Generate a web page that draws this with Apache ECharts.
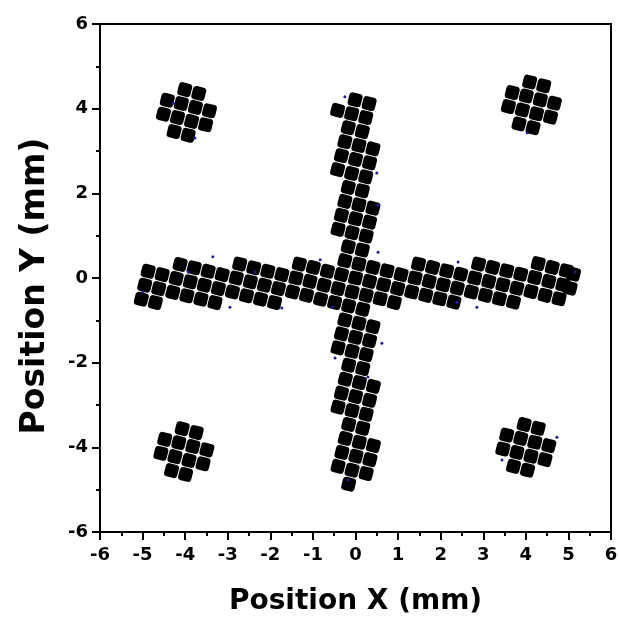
<!DOCTYPE html>
<html><head><meta charset="utf-8">
<script src="https://cdn.jsdelivr.net/npm/echarts@6/dist/echarts.min.js"></script>
<style>html,body{margin:0;padding:0;background:#fff}#c{width:619px;height:628px}</style>
</head><body><div id="c"></div>
<script>
// Horizontal arm of the cross (mm)
const hArm = [
  [-5.03,-0.50],[-4.95,-0.17],[-4.87,0.16],
  [-4.70,-0.58],[-4.62,-0.25],[-4.54,0.08],
  [-4.29,-0.34],[-4.21,-0.01],[-4.12,0.32],
  [-3.96,-0.42],[-3.88,-0.09],[-3.79,0.24],
  [-3.63,-0.50],[-3.55,-0.17],[-3.46,0.16],
  [-3.30,-0.58],[-3.22,-0.25],[-3.13,0.08],
  [-2.89,-0.33],[-2.80,0.00],[-2.72,0.33],
  [-2.56,-0.42],[-2.47,-0.09],[-2.39,0.24],
  [-2.23,-0.50],[-2.14,-0.17],[-2.06,0.16],
  [-1.90,-0.58],[-1.81,-0.25],[-1.73,0.08],
  [-1.48,-0.33],[-1.40,0.00],[-1.32,0.33],
  [-1.15,-0.41],[-1.07,-0.08],[-0.99,0.25],
  [-0.82,-0.50],[-0.74,-0.17],[-0.66,0.16],
  [-0.49,-0.58],[-0.41,-0.25],[-0.33,0.08],
  [-0.08,-0.33],[0.00,0.00],[0.08,0.33],
  [0.25,-0.41],[0.33,-0.08],[0.41,0.25],
  [0.58,-0.49],[0.66,-0.16],[0.74,0.17],
  [0.91,-0.58],[0.99,-0.25],[1.07,0.08],
  [1.32,-0.33],[1.40,0.00],[1.48,0.33],
  [1.65,-0.41],[1.73,-0.08],[1.81,0.25],
  [1.98,-0.49],[2.06,-0.16],[2.14,0.17],
  [2.31,-0.57],[2.39,-0.24],[2.47,0.09],
  [2.72,-0.33],[2.80,0.00],[2.89,0.33],
  [3.05,-0.41],[3.13,-0.08],[3.22,0.25],
  [3.38,-0.49],[3.46,-0.16],[3.55,0.17],
  [3.71,-0.57],[3.79,-0.24],[3.88,0.09],
  [4.12,-0.32],[4.21,0.01],[4.29,0.34],
  [4.45,-0.41],[4.54,-0.08],[4.62,0.25],
  [4.78,-0.49],[4.87,-0.16],[4.95,0.17],
  [5.04,-0.24],[5.12,0.09]
];
// Vertical arm of the cross (mm)
const vArm = [
  [-0.01,4.21],[0.32,4.12],
  [-0.42,3.96],[-0.09,3.88],[0.24,3.79],
  [-0.17,3.55],[0.16,3.46],
  [-0.25,3.22],[0.08,3.13],[0.41,3.05],
  [-0.33,2.89],[0.00,2.80],[0.33,2.72],
  [-0.42,2.56],[-0.09,2.47],[0.24,2.39],
  [-0.17,2.14],[0.16,2.06],
  [-0.25,1.81],[0.08,1.73],[0.41,1.65],
  [-0.33,1.48],[0.00,1.40],[0.33,1.32],
  [-0.41,1.15],[-0.08,1.07],[0.25,0.99],
  [-0.17,0.74],[0.16,0.66],
  [-0.25,0.41],
  [-0.16,-0.66],[0.17,-0.74],
  [-0.25,-0.99],[0.08,-1.07],[0.41,-1.15],
  [-0.33,-1.32],[0.00,-1.40],[0.33,-1.48],
  [-0.41,-1.65],[-0.08,-1.73],[0.25,-1.81],
  [-0.16,-2.06],[0.17,-2.14],
  [-0.24,-2.39],[0.09,-2.47],[0.42,-2.56],
  [-0.33,-2.72],[0.00,-2.80],[0.33,-2.89],
  [-0.41,-3.05],[-0.08,-3.13],[0.25,-3.22],
  [-0.16,-3.46],[0.17,-3.55],
  [-0.24,-3.79],[0.09,-3.88],[0.42,-3.96],
  [-0.32,-4.12],[0.01,-4.21],[0.34,-4.29],
  [-0.41,-4.45],[-0.08,-4.54],[0.25,-4.62],
  [-0.16,-4.87]
];
// Corner dots (mm)
const dotTL = [[-3.76,4.03],[-4.09,4.12],[-3.85,3.70],[-4.18,3.79],[-3.43,3.95],[-3.52,3.62],
  [-4.42,4.20],[-4.51,3.87],[-3.68,4.36],[-4.01,4.45],[-3.93,3.37],[-4.26,3.46]];
const dotTR = [[4.34,4.21],[4.01,4.30],[4.25,3.88],[3.92,3.97],[4.67,4.13],[4.58,3.80],
  [3.68,4.38],[3.59,4.05],[4.42,4.54],[4.09,4.63],[4.17,3.55],[3.84,3.64]];
const dotBL = [[-3.82,-3.98],[-4.15,-3.89],[-3.91,-4.31],[-4.24,-4.22],[-3.49,-4.06],[-3.58,-4.39],
  [-4.48,-3.81],[-4.57,-4.14],[-3.74,-3.65],[-4.07,-3.56],[-3.99,-4.64],[-4.32,-4.55]];
const dotBR = [[4.21,-3.88],[3.88,-3.79],[4.12,-4.21],[3.79,-4.12],[4.54,-3.96],[4.45,-4.29],
  [3.55,-3.71],[3.46,-4.04],[4.29,-3.55],[3.96,-3.46],[4.04,-4.54],[3.71,-4.45]];
// Small blue specks at dot edges (mm)
const specks = [[-4.99,-0.33],[-3.35,0.50],[-2.95,-0.69],[-3.93,0.14],[-1.73,-0.71],[-0.55,-0.69],
  [-0.83,0.43],[-2.36,0.14],[2.38,-0.57],[0.53,0.61],[2.41,0.38],[5.16,0.14],[2.85,-0.69],
  [-0.18,-4.77],[0.29,-2.34],[-0.48,-1.89],[0.62,-1.54],[0.50,2.48],[0.53,1.72],[-0.25,4.28],
  [-4.28,4.13],[-3.77,3.31],[4.73,-3.76],[3.44,-4.30],[4.03,3.43]];

const xTickStep = 1, yTickStep = 2, axisMin = -6, axisMax = 6;

const font = 'DejaVu Sans';
const blob = {
  type: 'scatter', symbol: 'roundRect', symbolSize: 13.5, symbolRotate: -14,
  itemStyle: { color: '#000', opacity: 1 }, silent: true, z: 3
};
const chart = echarts.init(document.getElementById('c'), null, { renderer: 'canvas' });
function axisCommon(step, name, gap, margin, nameSize, namePad) {
  return {
    type: 'value', min: axisMin, max: axisMax, interval: step,
    name: name, nameLocation: 'middle', nameGap: gap,
    nameTextStyle: { fontFamily: font, fontWeight: 'bold', fontSize: nameSize, color: '#000', padding: namePad },
    axisLine: { show: true, onZero: false, lineStyle: { color: '#000', width: 2 } },
    axisTick: { show: true, inside: false, length: 8, lineStyle: { color: '#000', width: 2 } },
    minorTick: { show: true, splitNumber: 2, length: 4, lineStyle: { color: '#000', width: 2 } },
    splitLine: { show: false }, minorSplitLine: { show: false },
    axisLabel: { fontFamily: font, fontWeight: 'bold', fontSize: 18, color: '#000', margin: margin }
  };
}
chart.setOption({
  animation: false,
  backgroundColor: '#fff',
  grid: { left: 100, right: 8, top: 24, bottom: 96, show: true, borderColor: '#000', borderWidth: 2,
          backgroundColor: '#fff', containLabel: false, outerBoundsMode: 'none' },
  xAxis: axisCommon(xTickStep, 'Position X (mm)', 56, 14, 28, [0, 0, 0, 0]),
  yAxis: axisCommon(yTickStep, 'Position Y (mm)', 48, 12, 33, [0, 16, 0, 0]),
  series: [
    Object.assign({}, blob, { data: hArm }),
    Object.assign({}, blob, { data: vArm }),
    Object.assign({}, blob, { data: dotTL }),
    Object.assign({}, blob, { data: dotTR }),
    Object.assign({}, blob, { data: dotBL }),
    Object.assign({}, blob, { data: dotBR }),
    { type: 'scatter', symbol: 'circle', symbolSize: 3, itemStyle: { color: '#1c1ca8', opacity: 1 }, silent: true, z: 4, data: specks }
  ]
});
</script>
</body></html>
